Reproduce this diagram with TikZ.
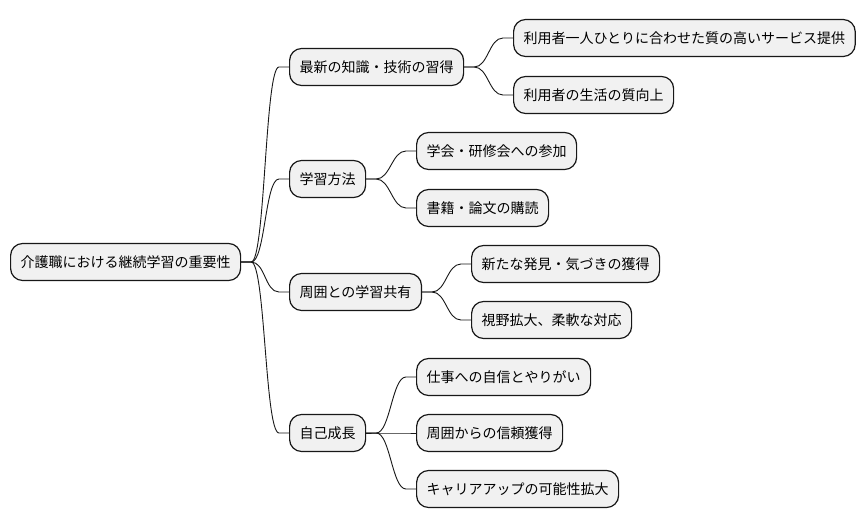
\documentclass[tikz,border=0pt]{standalone}
\usepackage{fontspec}
\newfontfamily\cjk{Noto Sans CJK JP}
\usetikzlibrary{calc}
\definecolor{nodefill}{HTML}{F1F1F1}
\definecolor{linecol}{HTML}{181818}
\tikzset{
  mmnode/.style={draw=linecol, fill=nodefill, line width=1.2pt, rounded corners=12pt,
    minimum height=37pt, inner xsep=10pt, inner ysep=0pt, anchor=west,
    font=\cjk\fontsize{14}{16}\selectfont, text=black},
  mmlink/.style={draw=linecol, line width=0.9pt}
}
\newcommand\mmconnect[2]{%
  \draw[mmlink] (#1.east) -- ++(10,0) .. controls +(14,0) and +(-14,0) .. ($(#2.west)+(-10,0)$) -- (#2.west);}
\begin{document}
\begin{tikzpicture}[x=1pt,y=-1pt]
\useasboundingbox (0,0) rectangle (866,527);
\fill[white] (0,0) rectangle (866,527);
\node[mmnode] (root) at (10,262) {介護職における継続学習の重要性};
\node[mmnode] (a) at (289,67) {最新の知識・技術の習得};
\node[mmnode] (a1) at (513,38) {利用者一人ひとりに合わせた質の高いサービス提供};
\node[mmnode] (a2) at (513,95) {利用者の生活の質向上};
\node[mmnode] (b) at (289,179) {学習方法};
\node[mmnode] (b1) at (416,151) {学会・研修会への参加};
\node[mmnode] (b2) at (416,208) {書籍・論文の購読};
\node[mmnode] (c) at (289,292) {周囲との学習共有};
\node[mmnode] (c1) at (471,264) {新たな発見・気づきの獲得};
\node[mmnode] (c2) at (471,320) {視野拡大、柔軟な対応};
\node[mmnode] (d) at (289,433) {自己成長};
\node[mmnode] (d1) at (416,377) {仕事への自信とやりがい};
\node[mmnode] (d2) at (416,433) {周囲からの信頼獲得};
\node[mmnode] (d3) at (416,489) {キャリアアップの可能性拡大};
\mmconnect{root}{a}
\mmconnect{root}{b}
\mmconnect{root}{c}
\mmconnect{root}{d}
\mmconnect{a}{a1}
\mmconnect{a}{a2}
\mmconnect{b}{b1}
\mmconnect{b}{b2}
\mmconnect{c}{c1}
\mmconnect{c}{c2}
\mmconnect{d}{d1}
\mmconnect{d}{d2}
\mmconnect{d}{d3}
\end{tikzpicture}
\end{document}
